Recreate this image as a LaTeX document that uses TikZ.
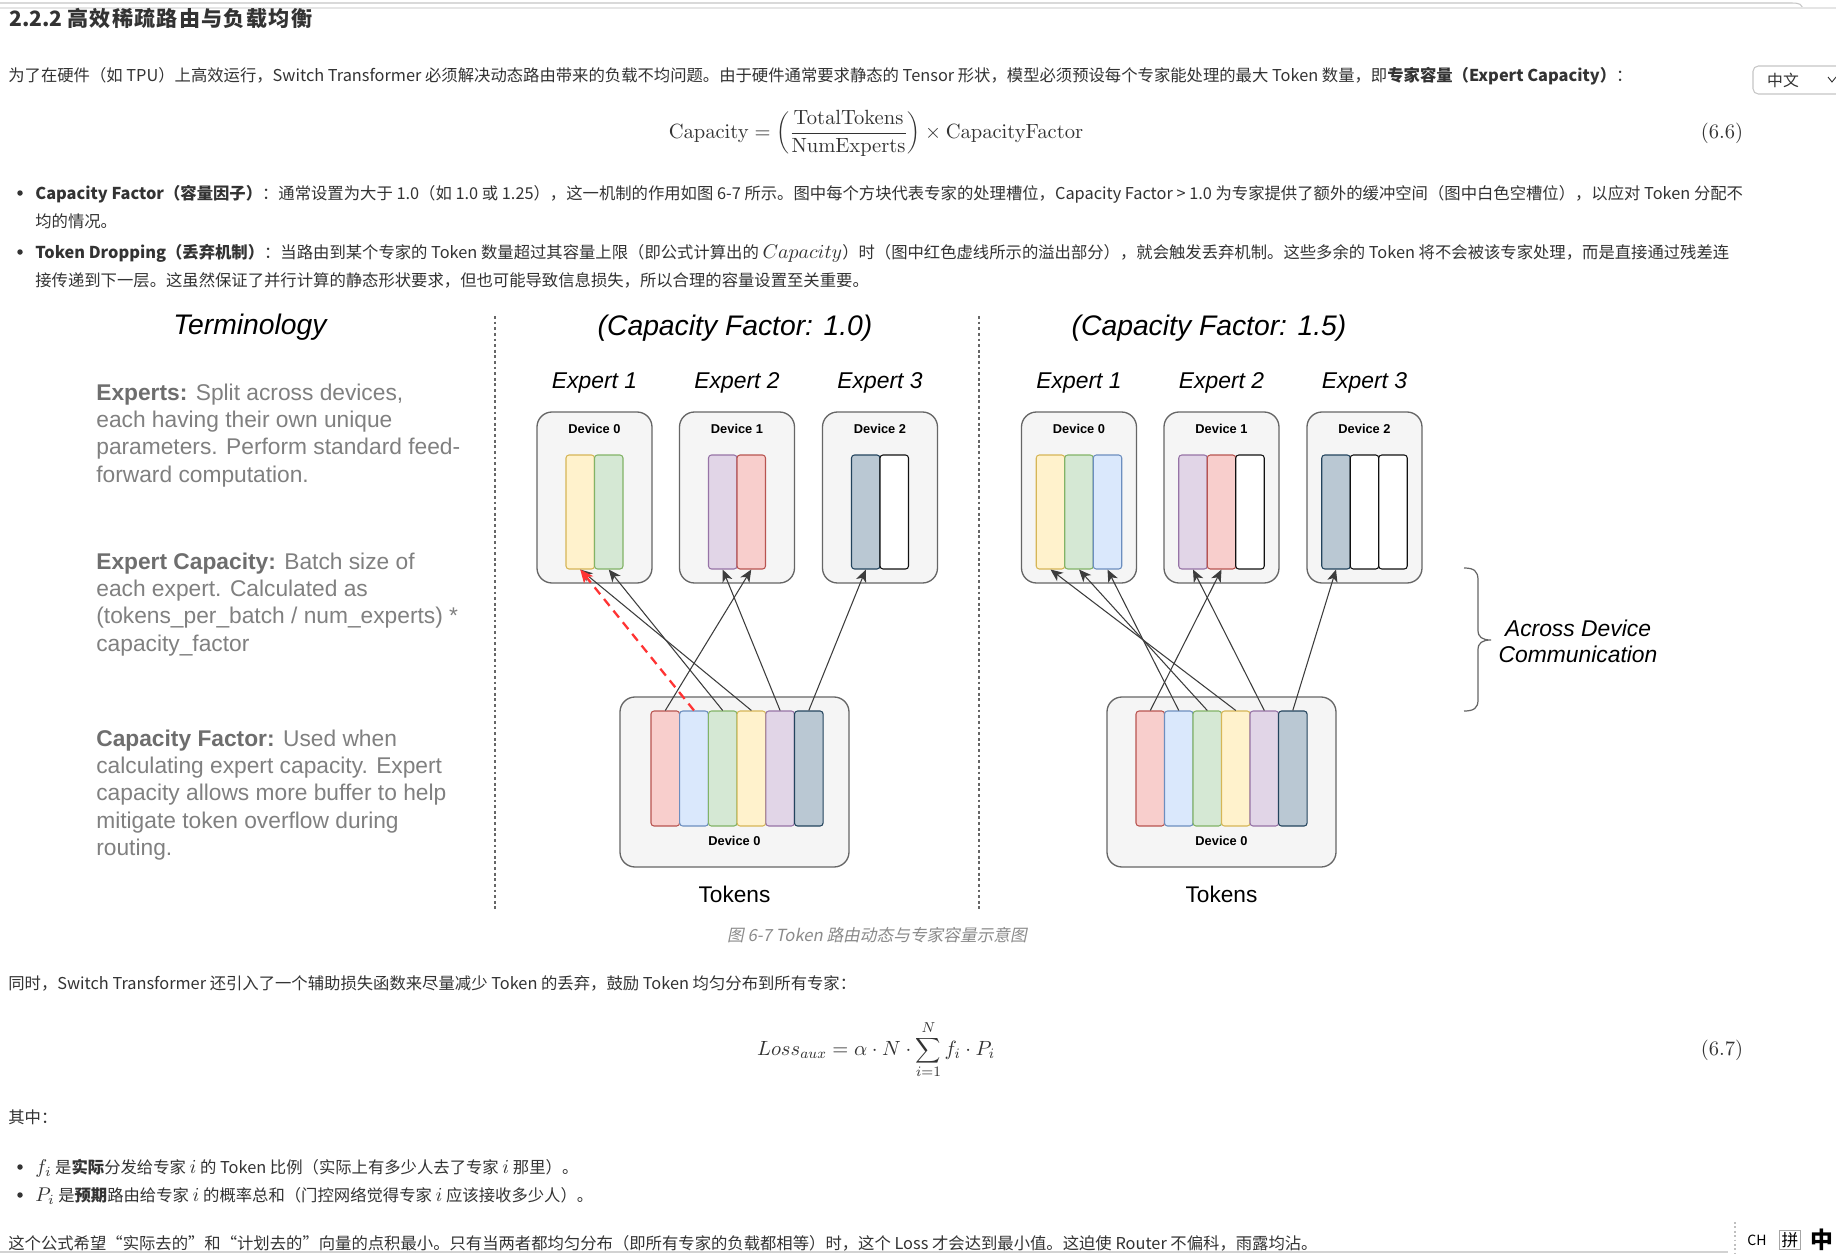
\RequirePackage{fix-cm}
\documentclass[tikz,border=0pt]{standalone}
\usepackage[no-math]{fontspec}
\setmainfont{Noto Sans CJK SC}
\newfontfamily\arialf{Liberation Sans}
\newfontfamily\capfont{Noto Sans CJK SC}[FakeSlant=0.2]
\newfontfamily\headcjk{Noto Sans CJK SC}[LetterSpace=6]
\usepackage{tikz}
\usetikzlibrary{arrows.meta, calc, positioning}
\definecolor{txtdark}{HTML}{333333}
\definecolor{capgray}{HTML}{8A8A8A}
\definecolor{termgray}{HTML}{808080}
\definecolor{termdark}{HTML}{6E6E6E}
\definecolor{devfill}{HTML}{F5F5F5}
\definecolor{devline}{HTML}{666666}
\definecolor{yelF}{HTML}{FFF2CC}
\definecolor{yelD}{HTML}{D6B656}
\definecolor{grnF}{HTML}{D5E8D4}
\definecolor{grnD}{HTML}{82B366}
\definecolor{bluF}{HTML}{DAE8FC}
\definecolor{bluD}{HTML}{6C8EBF}
\definecolor{redF}{HTML}{F8CECC}
\definecolor{redD}{HTML}{B85450}
\definecolor{purF}{HTML}{E1D5E7}
\definecolor{purD}{HTML}{9673A6}
\definecolor{gryF}{HTML}{BAC8D3}
\definecolor{gryD}{HTML}{23445D}
\definecolor{whtF}{HTML}{FFFFFF}
\definecolor{whtD}{HTML}{111111}
\definecolor{wirecol}{HTML}{3C3C3C}
\definecolor{dropred}{HTML}{FF3333}
\newcommand\mth[1]{{\fontsize{11.3}{14}\selectfont$#1$}}
\tikzset{
  pagetext/.style = {anchor=base west, inner sep=0pt, text=txtdark,
                     font=\fontsize{9.3}{12}\selectfont},
  bul/.style      = {circle, fill=txtdark, minimum size=1.1mm, inner sep=0pt},
  eqtext/.style   = {inner sep=0pt, text=txtdark,
                     font=\fontsize{11.7}{14}\selectfont},
  ttl/.style      = {inner sep=0pt, font=\arialf\itshape\fontsize{16.1}{19}\selectfont},
  explab/.style   = {inner sep=0pt, font=\arialf\itshape\fontsize{13}{15}\selectfont},
  devlab/.style   = {inner sep=0pt, font=\arialf\bfseries\fontsize{7.3}{9}\selectfont},
  termtext/.style = {anchor=north west, inner sep=0pt, align=left, text=termgray,
                     font=\arialf\fontsize{12.95}{15.5}\selectfont},
  devbox/.style   = {rectangle, rounded corners=3mm, draw=devline, fill=devfill,
                     line width=0.75pt, minimum width=23mm, minimum height=34.2mm},
  tokbox/.style   = {devbox, minimum width=45.8mm, minimum height=34mm},
  slot/.style     = {rectangle, rounded corners=0.6mm, line width=0.6pt,
                     minimum width=5.7mm, minimum height=22.8mm, inner sep=0pt},
  tokstrip/.style = {slot, minimum width=5.72mm, minimum height=23mm},
  wire/.style     = {draw=wirecol, line width=0.6pt,
                     -{Stealth[length=7pt, width=6pt, inset=2pt]}},
  drop/.style     = {draw=dropred, line width=1.3pt, dash pattern=on 5pt off 3.5pt,
                     -{Stealth[length=7.5pt, width=6.5pt, inset=2pt]}},
  sepline/.style  = {draw=devline, line width=0.6pt, dash pattern=on 1.6pt off 1.6pt},
}
\begin{document}
\begin{tikzpicture}[x=0.2mm, y=-0.2mm]
  \useasboundingbox (0,0) rectangle (1836,1254);
  \fill[white] (0,0) rectangle (1836,1254);
  % page frame bits
  \draw[gray!45, line width=0.6pt] (0,3) -- (1792,3) .. controls (1800,3) and (1802,5) .. (1803,8);
  \draw[gray!20, line width=0.6pt] (0,8) -- (1836,8);
  \draw[gray!45, line width=0.6pt, rounded corners=3pt] (1753,66) rectangle (1870,94);
  \node[inner sep=0pt, text=txtdark, font=\fontsize{9}{11}\selectfont] (langsel) at (1783,80) {中文};
  \draw[txtdark, line width=0.5pt] (1828,77) -- (1832,82) -- (1836,77);

  % text above the figure
  \node[pagetext, font=\bfseries\fontsize{12}{14}\selectfont] (head) at (9,26)
    {2.2.2 {\headcjk\bfseries 高效稀疏路由与负载均衡}};
  \node[pagetext] (para1) at (8,81.5) {为了在硬件（如 TPU）上高效运行，Switch Transformer 必须解决动态路由带来的负载不均问题。由于硬件通常要求静态的 Tensor 形状，模型必须预设每个专家能处理的最大 Token 数量，即\textbf{专家容量（Expert Capacity）}：};
  \node[eqtext] (eqA) at (876,133)
    {$\displaystyle \mathrm{Capacity}=\left(\frac{\mathrm{TotalTokens}}{\mathrm{NumExperts}}\right)\times\mathrm{CapacityFactor}$};
  \node[eqtext] (tagA) at (1722,133) {$(6.6)$};
  \node[bul] (bu1) at (20,193) {};
  \node[pagetext] (bl1a) at (35,199.5) {\textbf{Capacity Factor（容量因子）}：通常设置为大于 1.0（如 1.0 或 1.25），这一机制的作用如图 6-7 所示。图中每个方块代表专家的处理槽位，Capacity Factor > 1.0 为专家提供了额外的缓冲空间（图中白色空槽位），以应对 Token 分配不};
  \node[pagetext] (bl1b) at (35,227.5) {均的情况。};
  \node[bul] (bu2) at (20,252) {};
  \node[pagetext] (bl2a) at (35,258.5) {\textbf{Token Dropping（丢弃机制）}：当路由到某个专家的 Token 数量超过其容量上限（即公式计算出的 \mth{Capacity}）时（图中红色虚线所示的溢出部分），就会触发丢弃机制。这些多余的 Token 将不会被该专家处理，而是直接通过残差连};
  \node[pagetext] (bl2b) at (35,286.5) {接传递到下一层。这虽然保证了并行计算的静态形状要求，但也可能导致信息损失，所以合理的容量设置至关重要。};

  % figure: separators and titles
  \draw[sepline] (495,316) -- (495,910);
  \draw[sepline] (979,316) -- (979,910);
  \node[ttl] (ttlTerm) at (250,327) {Terminology};
  \node[ttl] (ttlA) at (735,328) {(Capacity Factor: 1.0)};
  \node[ttl] (ttlB) at (1209,328) {(Capacity Factor: 1.5)};

  % terminology column
  \node[termtext] (termA) at (96,383.5) {{\color{termdark}\bfseries Experts:} Split across devices,\\each having their own unique\\parameters. Perform standard feed-\\forward computation.};
  \node[termtext] (termB) at (96,552.5) {{\color{termdark}\bfseries Expert Capacity:} Batch size of\\each expert. Calculated as\\(tokens\_per\_batch / num\_experts) *\\capacity\_factor};
  \node[termtext] (termC) at (96,729.5) {{\color{termdark}\bfseries Capacity Factor:} Used when\\calculating expert capacity. Expert\\capacity allows more buffer to help\\mitigate token overflow during\\routing.};

  % expert devices
  \foreach \n/\x in {dA0/594.5, dA1/737, dA2/880, dB0/1079, dB1/1221.5, dB2/1364.5}
    \node[devbox] (\n) at (\x,497.5) {};
  \foreach \n/\k in {dA0/0, dA1/1, dA2/2, dB0/0, dB1/1, dB2/2}
    \node[devlab, below=2.46mm of \n.north] (l\n) {Device \k};
  \foreach \n/\k in {dA0/1, dA1/2, dA2/3, dB0/1, dB1/2, dB2/3}
    \node[explab, above=3.6mm of \n] (e\n) {Expert \k};
  \foreach \n/\x/\cl in {sA1/580.25/yel, sA2/608.75/grn, sA3/722.75/pur, sA4/751.25/red,
      sA5/865.75/gry, sA6/894.25/wht, sB1/1050.5/yel, sB2/1079/grn, sB3/1107.5/blu,
      sB4/1193/pur, sB5/1221.5/red, sB6/1250/wht, sB7/1336/gry, sB8/1364.5/wht,
      sB9/1393/wht}
    \node[slot, fill=\cl F, draw=\cl D] (\n) at (\x,512) {};

  % token devices
  \node[tokbox] (cA) at (734.5,782) {};
  \node[tokbox] (cB) at (1221.5,782) {};
  \foreach \n/\x/\cl in {tA1/665.3/red, tA2/694/blu, tA3/722.7/grn, tA4/751.4/yel,
      tA5/780.1/pur, tA6/808.8/gry, tB1/1150.3/red, tB2/1178.8/blu, tB3/1207.3/grn,
      tB4/1235.8/yel, tB5/1264.3/pur, tB6/1292.8/gry}
    \node[tokstrip, fill=\cl F, draw=\cl D] (\n) at (\x,768.5) {};
  \node[devlab, above=4.26mm of cA.south] (lcA) {Device 0};
  \node[devlab, above=4.26mm of cB.south] (lcB) {Device 0};
  \node[inner sep=0pt, font=\arialf\fontsize{12.9}{15}\selectfont, below=3.7mm of cA] (tokA) {Tokens};
  \node[inner sep=0pt, font=\arialf\fontsize{12.9}{15}\selectfont, below=3.7mm of cB] (tokB) {Tokens};

  % routing, capacity factor 1.0
  \draw[wire] (tA1.north) -- (sA4.south);
  \draw[wire] (tA3.north) -- (sA2.south);
  \draw[wire] (tA4.north) -- (sA1.south);
  \draw[wire] (tA5.north) -- (sA3.south);
  \draw[wire] (tA6.north) -- (sA5.south);
  \draw[drop] (tA2.north) -- (sA1.south);
  % routing, capacity factor 1.5
  \draw[wire] (tB1.north) -- (sB5.south);
  \draw[wire] (tB2.north) -- (sB3.south);
  \draw[wire] (tB3.north) -- (sB2.south);
  \draw[wire] (tB4.north) -- (sB1.south);
  \draw[wire] (tB5.north) -- (sB4.south);
  \draw[wire] (tB6.north) -- (sB7.south);

  % brace
  \draw[devline, line width=0.7pt] (1464,568) .. controls (1474,568) and (1478,571) .. (1478,580)
    -- (1478,630) .. controls (1478,637) and (1482,640) .. (1491,640)
    .. controls (1482,640) and (1478,643) .. (1478,650)
    -- (1478,700) .. controls (1478,708) and (1474,711) .. (1464,711);
  \node[explab, align=center, font=\arialf\itshape\fontsize{13}{14.8}\selectfont] (acr) at (1578,641)
    {Across Device\\Communication};

  % caption and text below the figure
  \node[anchor=base, inner sep=0pt, text=capgray, font=\capfont\fontsize{9.5}{12}\selectfont] (capt)
    at (877,941.5) {图 6-7 Token 路由动态与专家容量示意图};
  \node[pagetext] (para2) at (8,989.5) {同时，Switch Transformer 还引入了一个辅助损失函数来尽量减少 Token 的丢弃，鼓励 Token 均匀分布到所有专家：};
  \node[eqtext] (eqB) at (876,1050)
    {$\displaystyle Loss_{aux}=\alpha\cdot N\cdot\sum_{i=1}^{N} f_i\cdot P_i$};
  \node[eqtext] (tagB) at (1722,1050) {$(6.7)$};
  \node[pagetext] (where) at (8,1123.5) {其中：};
  \node[bul] (bu3) at (20,1167) {};
  \node[pagetext] (bl3) at (35,1173.5) {\mth{f_i} 是\textbf{实际}分发给专家 \mth{i} 的 Token 比例（实际上有多少人去了专家 \mth{i} 那里）。};
  \node[bul] (bu4) at (20,1195) {};
  \node[pagetext] (bl4) at (35,1201.5) {\mth{P_i} 是\textbf{预期}路由给专家 \mth{i} 的概率总和（门控网络觉得专家 \mth{i} 应该接收多少人）。};
  \node[pagetext] (para3) at (8,1249.5) {这个公式希望“实际去的”和“计划去的”向量的点积最小。只有当两者都均匀分布（即所有专家的负载都相等）时，这个 Loss 才会达到最小值。这迫使 Router 不偏科，雨露均沾。};

  % status bar
  \draw[gray!35, line width=0.8pt] (0,1252) -- (1728,1252);
  \draw[gray!50, line width=0.6pt, dash pattern=on 1pt off 1.5pt] (1735,1222) -- (1735,1254);
  \node[inner sep=0pt, font=\fontsize{8}{9}\selectfont] (imeCH) at (1757,1240) {CH};
  \node[draw=gray!70, line width=0.5pt, inner sep=1pt, font=\fontsize{9.5}{11}\selectfont] (imePin) at (1790,1240) {拼};
  \node[inner sep=0pt, font=\bfseries\fontsize{13}{15}\selectfont] (imeZh) at (1822,1240) {中};
\end{tikzpicture}
\end{document}
